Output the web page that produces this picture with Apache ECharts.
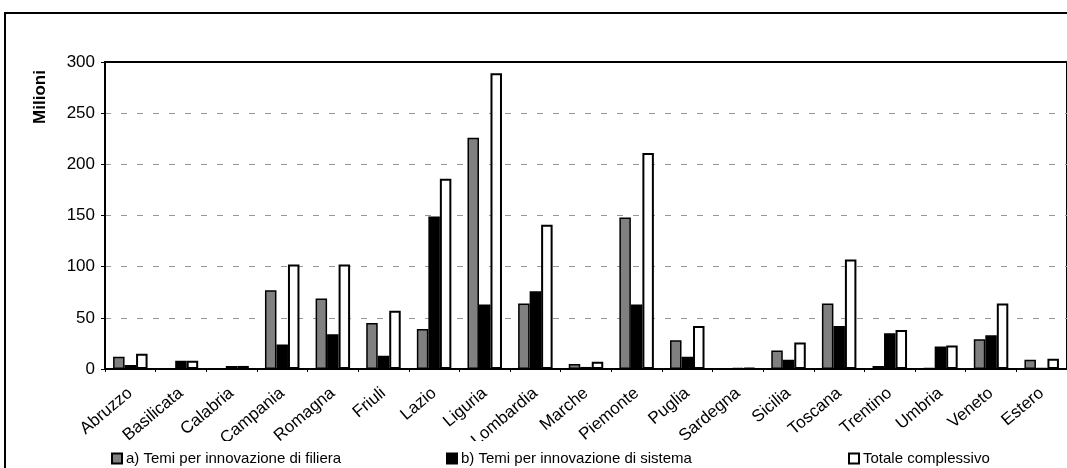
<!DOCTYPE html>
<html><head><meta charset="utf-8">
<script src="https://cdn.jsdelivr.net/npm/echarts@6/dist/echarts.min.js"></script>
<style>html,body{margin:0;padding:0;background:#fff}#c{width:1067px;height:468px}</style>
</head><body><div id="c"></div>
<script>
const categories = ["Abruzzo","Basilicata","Calabria","Campania","Romagna","Friuli","Lazio","Liguria","Lombardia","Marche","Piemonte","Puglia","Sardegna","Sicilia","Toscana","Trentino","Umbria","Veneto","Estero"];
const seriesA = [12,0,0,77,69,45,39,226,64,5,148,28,0,18,64,3,1,29,9];
const seriesB = [4,8,3,24,34,13,149,63,76,2,63,12,1,9,42,35,22,33,1];
const seriesTot = [15,8,3,102,102,57,186,289,141,7,211,42,1,26,107,38,23,64,10];
const yTicks = [0,50,100,150,200,250,300];
const names = ["a) Temi per innovazione di filiera","b) Temi per innovazione di sistema","Totale complessivo"];

const chart = echarts.init(document.getElementById('c'));
const font = '"Liberation Sans", Arial, sans-serif';
function legend(i, left){
  return {data:[names[i]], left:left, top:446, itemWidth:10, itemHeight:10, icon:'rect', z:20, itemGap:6,
    textStyle:{fontFamily:font, fontSize:15, color:'#000', padding:[0,0,0,-1]}};
}
chart.setOption({
  animation:false,
  grid:{left:105, right:0, top:62, bottom:99, show:true, borderColor:'#000', borderWidth:2, backgroundColor:'transparent'},
  graphic:[
    {type:'rect', shape:{x:5,y:13,width:1100,height:500}, style:{fill:'none', stroke:'#000', lineWidth:2}, z:1},
    {type:'rect', shape:{x:7,y:441,width:1100,height:40}, style:{fill:'#fff'}, z:10},
    {type:'text', x:40, y:97, rotation:Math.PI/2, style:{text:'Milioni', font:'bold 17px '+font, fill:'#000', textAlign:'center', textVerticalAlign:'middle'}, z:5}
  ],
  legend:[legend(0,106), legend(1,441), legend(2,843)],
  xAxis:{type:'category', data:categories,
    axisLine:{lineStyle:{color:'#000', width:2}},
    axisTick:{show:true, lineStyle:{color:'#000'}, length:3},
    axisLabel:{rotate:40, interval:0, margin:22, fontFamily:font, fontSize:17, color:'#000'}},
  yAxis:{type:'value', min:0, max:300, interval:50,
    axisLine:{show:true, lineStyle:{color:'#000', width:2}},
    axisTick:{show:true, length:4, lineStyle:{color:'#000'}},
    axisLabel:{fontFamily:font, fontSize:17, color:'#000', margin:10,
      formatter:v=>yTicks.includes(v)?String(v):''},
    splitLine:{showMaxLine:false, showMinLine:false, lineStyle:{color:'#999', type:[6,10], width:1}}},
  series:[
    {name:names[0], type:'bar', data:seriesA, barWidth:11.5, barGap:'0%',
      itemStyle:{color:'#808080', borderColor:'#000', borderWidth:1.5}},
    {name:names[1], type:'bar', data:seriesB, barWidth:11.5, barGap:'0%',
      itemStyle:{color:'#000', borderColor:'#000', borderWidth:1.5}},
    {name:names[2], type:'bar', data:seriesTot, barWidth:11.5, barGap:'0%',
      itemStyle:{color:'#fff', borderColor:'#000', borderWidth:2}}
  ]
});
</script></body></html>
